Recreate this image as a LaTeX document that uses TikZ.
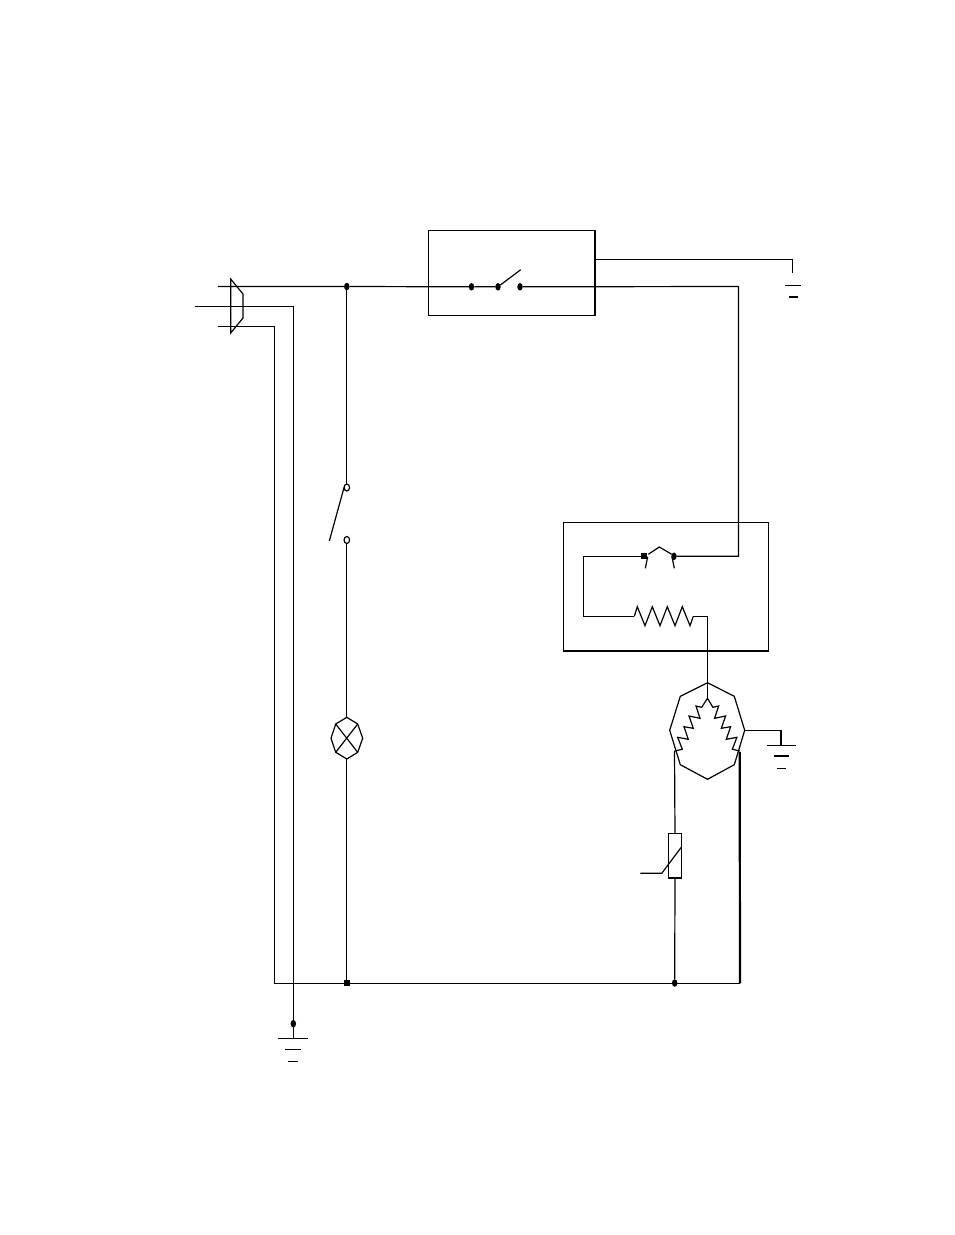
\documentclass[tikz,border=0pt]{standalone}
\usetikzlibrary{shapes.geometric}
\tikzset{
  wire/.style={line width=1.2pt,line join=miter},
  heavy/.style={line width=2.2pt},
  dotnode/.style={ellipse,fill=black,draw=none,minimum width=5.5pt,minimum height=7.5pt,inner sep=0pt,outer sep=0pt},
  squarenode/.style={rectangle,fill=black,draw=none,minimum width=6pt,minimum height=6pt,inner sep=0pt,outer sep=0pt},
  opennode/.style={ellipse,fill=white,draw=black,line width=1.2pt,minimum width=5.5pt,minimum height=7pt,inner sep=0pt,outer sep=0pt},
  boxnode/.style={rectangle,draw=black,inner sep=0pt,outer sep=0pt}
}
\begin{document}
\begin{tikzpicture}[x=1pt,y=-1pt,wire]
\useasboundingbox (0,0) rectangle (954,1235);
\fill[white] (0,0) rectangle (954,1235);
% connector corners
\coordinate (p1) at (218,286.5);
\coordinate (p2a) at (195,306.5);
\coordinate (p2b) at (293.3,306.5);
\coordinate (p3a) at (218,326.5);
\coordinate (p3b) at (274.5,326.5);
\coordinate (bl) at (274.5,983.3);
\coordinate (br) at (740,983.3);
\coordinate (c1) at (738.5,286.5);
\coordinate (c2) at (738.5,556.3);
\coordinate (l1) at (583.5,556.3);
\coordinate (l2) at (583.5,616.3);
\coordinate (r0) at (634.3,616.3);
\coordinate (r1) at (693.3,616.3);
\coordinate (r2) at (707.5,616.3);
\coordinate (t1) at (595.5,259.5);
\coordinate (t2) at (792.5,259.5);
\coordinate (t3) at (792.5,273.3);
\coordinate (octtop) at (707.5,682.7);
\coordinate (octin) at (707.5,698.3);
\coordinate (octr) at (744.7,730.3);
\coordinate (g1) at (781,730.3);
\coordinate (g2) at (781,745.3);
\coordinate (wl) at (674.5,751);
\coordinate (wr) at (739.7,752);
\coordinate (gb) at (293.3,1038.5);
\coordinate (lt) at (346.8,717.3);
\coordinate (lb) at (346.8,759);
% nodes
\node[boxnode,line width=1.6pt,minimum width=166.5pt,minimum height=85pt] (relay) at (511.8,272.8) {};
\node[boxnode,minimum width=205pt,minimum height=128.7pt] (prot) at (665.8,586.7) {};
\node[dotnode] (j1) at (346.8,286.5) {};
\node[dotnode] (s1) at (471.5,286.8) {};
\node[dotnode] (s2) at (498,286.8) {};
\node[dotnode] (s3) at (520,286.8) {};
\node[squarenode] (c3) at (644.3,556.3) {};
\node[dotnode] (c4) at (674,556.3) {};
\node[squarenode] (j2) at (346.8,983) {};
\node[dotnode] (j3) at (674.7,983) {};
\node[dotnode] (j4) at (293.3,1023.7) {};
\node[opennode] (o1) at (346.8,487.5) {};
\node[opennode] (o2) at (346.8,540) {};
\node[boxnode,minimum width=13.4pt,minimum height=44.7pt] (ptc) at (675,855.6) {};
\coordinate (blade) at (520.7,269.7);
\coordinate (blade2) at (329.3,541);
% wires
\draw (p1) -- (j1) -- (s1) -- (s2);
\draw (s2) -- (blade);
\draw (s3) -- (c1) -- (c2) -- (c4);
\draw (p2a) -- (p2b) -- (gb);
\draw (p3a) -- (p3b) -- (bl) -- (br);
\draw (j1) -- (o1);
\draw (o2) -- (lt);
\draw (lb) -- (j2);
\draw (o1.west) -- (blade2);
\draw (t1) -- (t2) -- (t3);
\draw (c3) -- (l1) -- (l2) -- (r0);
\draw (r1) -- (r2) -- (octin);
\draw (octr) -- (g1);
\draw[heavy] (g1) -- (g2);
\draw (wl) -- (ptc.north);
\draw (ptc.south) -- (j3);
\draw[heavy] (wr) -- (br);
\draw[heavy] (668.3,878) -- (681.7,878);
% thermistor slant
\draw (640.3,873.3) -- (661.7,873.3) -- (681.7,846.7);
% connector shell
\draw (230.7,279) -- (243,294) -- (243,318) -- (230.7,333) -- cycle;
% battery
\draw (785,285.3) -- (801,285.3);
\draw[heavy] (789,297) -- (797.7,297);
% thermal contact
\draw (648.3,554.3) -- (659.3,547) -- (671.7,554.3);
\draw (647.7,556.7) -- (645.3,568.3);
\draw (672,556.7) -- (674.3,568.3);
% heater
\draw (r0) -- (637.3,606.7) -- (645,625.7) -- (652.3,606.7) -- (660,625.7) -- (667.3,606.7) -- (675,625.7) -- (682.3,606.7) -- (690,625.7) -- (r1);
% motor
\draw (octtop) -- (734.3,696.3) -- (octr) -- (734.3,764.7) -- (707.5,779.3) -- (680.3,764.7) -- (669.7,730.3) -- (680.3,696.3) -- cycle;
\draw (674.5,751) -- (682.3,749.3) -- (677.7,737.3) -- (688.3,739.3) -- (684,726.7) -- (693.3,728.3) -- (689,716) -- (700,718.3) -- (696,706) -- (701.7,707.3) -- (octin)
 -- (712.9,707.3) -- (718.6,706) -- (714.6,718.3) -- (725.6,716) -- (721.3,728.3) -- (730.6,726.7) -- (726.3,739.3) -- (736.9,737.3) -- (732.3,749.3) -- (740,751);
% lamp
\draw (lt) -- (357.7,724) -- (362.7,738.3) -- (357.7,752.3) -- (lb) -- (335.7,752.3) -- (331,738.3) -- (335.7,724) -- cycle;
\draw (335.7,724) -- (357.7,752.3);
\draw (357.7,724) -- (335.7,752.3);
% grounds
\draw (766.7,745.3) -- (796,745.3);
\draw (773.7,756) -- (789.3,756);
\draw (777.3,768.3) -- (786,768.3);
\draw (278,1038.5) -- (307.7,1038.5);
\draw (285,1049.3) -- (301,1049.3);
\draw (288.3,1061.3) -- (297.7,1061.3);
\end{tikzpicture}
\end{document}
